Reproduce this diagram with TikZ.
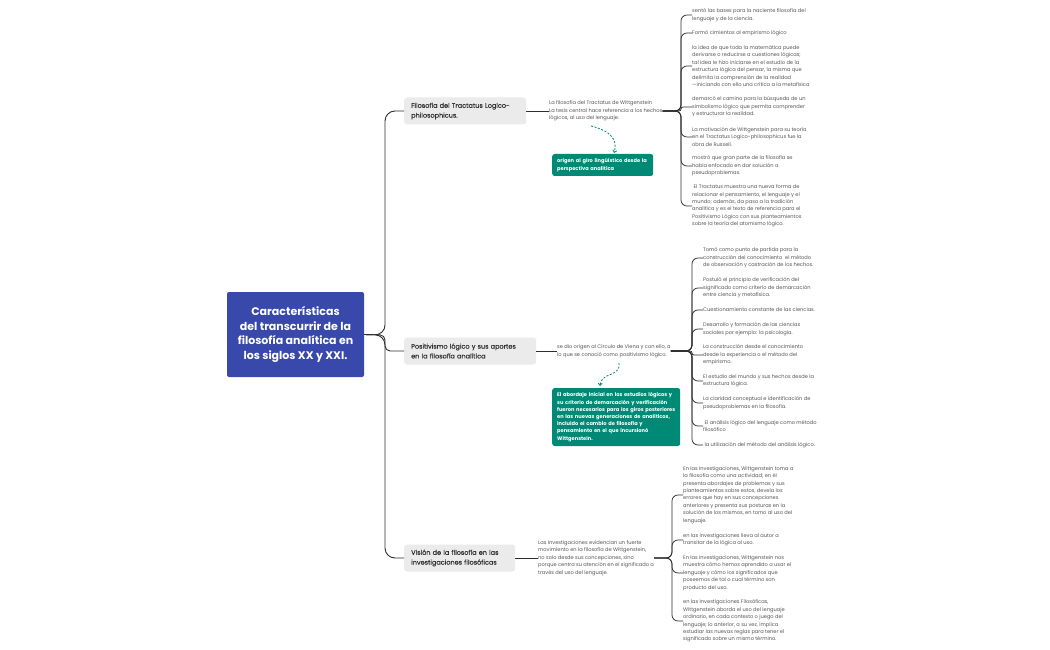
\documentclass[tikz,border=0pt]{standalone}
\usepackage{fontspec}
\setmainfont{Poppins}
\newfontfamily\medf{Poppins}[FakeBold=0.6]
\usetikzlibrary{arrows.meta,calc}
\definecolor{cblue}{HTML}{3949AB}
\definecolor{cteal}{HTML}{008A75}
\definecolor{cgray}{HTML}{EBEBEB}
\definecolor{ctext}{HTML}{555555}
\definecolor{cdark}{HTML}{333333}
\definecolor{cline}{HTML}{2E2E2E}
\begin{document}
\begin{tikzpicture}[x=1pt,y=-1pt,
  txt/.style={anchor=west,inner sep=0pt,align=left,text=ctext,font=\fontsize{5.1}{7.4}\selectfont},
  topic/.style={anchor=west,fill=cgray,rounded corners=3pt,inner xsep=7pt,inner ysep=0pt,minimum height=27pt,align=left,text=cdark,font=\medf\fontsize{6.5}{9.8}\selectfont},
  tealbox/.style={anchor=west,fill=cteal,rounded corners=2.5pt,inner xsep=5pt,inner ysep=0pt,align=left,text=white,font=\bfseries\fontsize{5.1}{7.2}\selectfont},
  conn/.style={draw=cline,line width=0.75pt,rounded corners=6pt},
  mainconn/.style={draw=cline,line width=0.9pt,rounded corners=10pt},
  dasharrow/.style={draw=cteal,line width=0.8pt,dash pattern=on 2pt off 1.6pt,-{Straight Barb[length=2.2pt,width=4pt]}}]
\useasboundingbox[fill=white] (0,0) rectangle (1050,650);

% central topic
\node[fill=cblue,rounded corners=2pt,minimum width=137pt,minimum height=85pt,inner sep=0pt,align=center,text=white,font=\bfseries\fontsize{11}{14.7}\selectfont] (C) at (295.5,334.5)
 {Características\\del transcurrir de la\\filosofía analítica en\\los siglos XX y XXI.};

% main topics
\node[topic,text width=108pt] (g1) at (404,111) {Filosofía del Tractatus Logico-\\philosophicus.};
\node[topic,text width=118pt] (g2) at (404,351) {Positivismo lógico y sus aportes\\en la filosofía analítica};
\node[topic,text width=97pt] (g3) at (404,558) {Visión de la filosofía en las\\investigaciones filosóficas};

\coordinate (k0) at (385,335);
\draw[mainconn] (C.east) -- (k0) |- (g1.west);
\draw[mainconn,rounded corners=5pt] (C.east) -- (k0) |- (g2.west);
\draw[mainconn] (C.east) -- (k0) |- (g3.west);

% ---------- branch 1
\node[txt] (m1) at (549,111) {La filosofía del Tractatus de Wittgenstein\\La tesis central hace referencia a los hechos\\lógicos, al uso del lenguaje.};
\draw[conn] (g1.east) -- (m1.west);
\node[tealbox,text width=91pt,minimum height=22pt] (t1) at (552,165) {origen al giro lingüístico desde la\\perspectiva analítica};
\coordinate (s1) at (591,126);
\coordinate (e1) at (614,153);
\draw[dasharrow] (s1) .. controls (611,131) and (618,140) .. (e1);

\node[txt] (a1) at (692,15) {sentó las bases para la naciente filosofía del\\lenguaje y de la ciencia.};
\node[txt] (a2) at (692,33) {Formó cimientos al empirismo lógico};
\node[txt] (a3) at (692,66) {la idea de que toda la matemática puede\\derivarse o reducirse a cuestiones lógicas;\\tal idea le hizo iniciarse en el estudio de la\\estructura lógica del pensar, la misma que\\delimita la comprensión de la realidad\\—iniciando con ello una crítica a la metafísica};
\node[txt] (a4) at (692,107) {demarcó el camino para la búsqueda de un\\simbolismo lógico que permita comprender\\y estructurar la realidad.};
\node[txt] (a5) at (692,137) {La motivación de Wittgenstein para su teoría\\en el Tractatus Logico-philosophicus fue la\\obra de Russell.};
\node[txt] (a6) at (692,166) {mostró que gran parte de la filosofía se\\había enfocado en dar solución a\\pseudoproblemas.};
\node[txt] (a7) at (692,206) {\ El Tractatus muestra una nueva forma de\\relacionar el pensamiento, el lenguaje y el\\mundo; además, da paso a la tradición\\analítica y es el texto de referencia para el\\Positivismo Lógico con sus planteamientos\\sobre la teoría del atomismo lógico.};
\coordinate (k1) at (681,111);
\foreach \n in {a1,a2,a3,a5,a6,a7} \draw[conn] (m1.east) -- (k1) |- (\n.west);
\draw[conn,rounded corners=2pt] (m1.east) -- (k1) |- (a4.west);

% ---------- branch 2
\node[txt] (m2) at (557,351) {se dio origen al Círculo de Viena y con ello, a\\lo que se conoció como positivismo lógico.};
\draw[conn] (g2.east) -- (m2.west);
\node[tealbox,text width=118pt,minimum height=58pt] (t2) at (552,417) {El abordaje inicial en los estudios lógicos y\\su criterio de demarcación y verificación\\fueron necesarios para los giros posteriores\\en las nuevas generaciones de analíticos,\\incluido el cambio de filosofía y\\pensamiento en el que incursionó\\Wittgenstein.};
\coordinate (s2) at (619,363);
\coordinate (e2) at (600,386);
\draw[dasharrow] (s2) .. controls (621,377) and (601,372) .. (e2);

\node[txt] (c1) at (703,258) {Tomó como punto de partida para la\\construcción del conocimiento\ \ el método\\de observación y castración de los hechos.};
\node[txt] (c2) at (703,288) {Postuló el principio de verificación del\\significado como criterio de demarcación\\entre ciencia y metafísica.};
\node[txt] (c3) at (703,310) {Cuestionamiento constante de las ciencias.};
\node[txt] (c4) at (703,329) {Desarrollo y formación de las ciencias\\sociales por ejemplo: la psicología.};
\node[txt] (c5) at (703,355) {La construcción desde el conocimiento\\desde la experiencia o el método del\\empirismo.};
\node[txt] (c6) at (703,381) {El estudio del mundo y sus hechos desde la\\estructura lógica.};
\node[txt] (c7) at (703,403) {La claridad conceptual e identificación de\\pseudoproblemas en la filosofía.};
\node[txt] (c8) at (703,426) {\ El análisis lógico del lenguaje como método\\filosófico};
\node[txt] (c9) at (703,445) {\ la utilización del método del análisis lógico.};
\coordinate (k2) at (692,351);
\foreach \n in {c1,c2,c3,c4,c6,c7,c8,c9} \draw[conn] (m2.east) -- (k2) |- (\n.west);
\draw[conn,rounded corners=2pt] (m2.east) -- (k2) |- (c5.west);

% ---------- branch 3
\node[txt] (m3) at (538,558) {Las Investigaciones evidencian un fuerte\\movimiento en la filosofía de Wittgenstein,\\no solo desde sus concepciones, sino\\porque centra su atención en el significado a\\través del uso del lenguaje.};
\draw[conn] (g3.east) -- (m3.west);
\node[txt] (d1) at (683,495) {En las Investigaciones, Wittgenstein toma a\\la filosofía como una actividad; en él\\presenta abordajes de problemas y sus\\planteamientos sobre estos, devela los\\errores que hay en sus concepciones\\anteriores y presenta sus posturas en la\\solución de los mismos, en torno al uso del\\lenguaje.};
\node[txt] (d2) at (683,540) {en las investigaciones lleva al autor a\\transitar de la lógica al uso.};
\node[txt] (d3) at (683,573) {En las Investigaciones, Wittgenstein nos\\muestra cómo hemos aprendido a usar el\\lenguaje y cómo los significados que\\poseemos de tal o cual término son\\producto del uso.};
\node[txt] (d4) at (683,621) {en las Investigaciones Filosóficas,\\Wittgenstein aborda el uso del lenguaje\\ordinario, en cada contexto o juego del\\lenguaje; lo anterior, a su vez, implica\\estudiar las nuevas reglas para tener el\\significado sobre un mismo término.};
\coordinate (k3) at (672,558);
\foreach \n in {d1,d2,d3,d4} \draw[conn] (m3.east) -- (k3) |- (\n.west);
\end{tikzpicture}
\end{document}
